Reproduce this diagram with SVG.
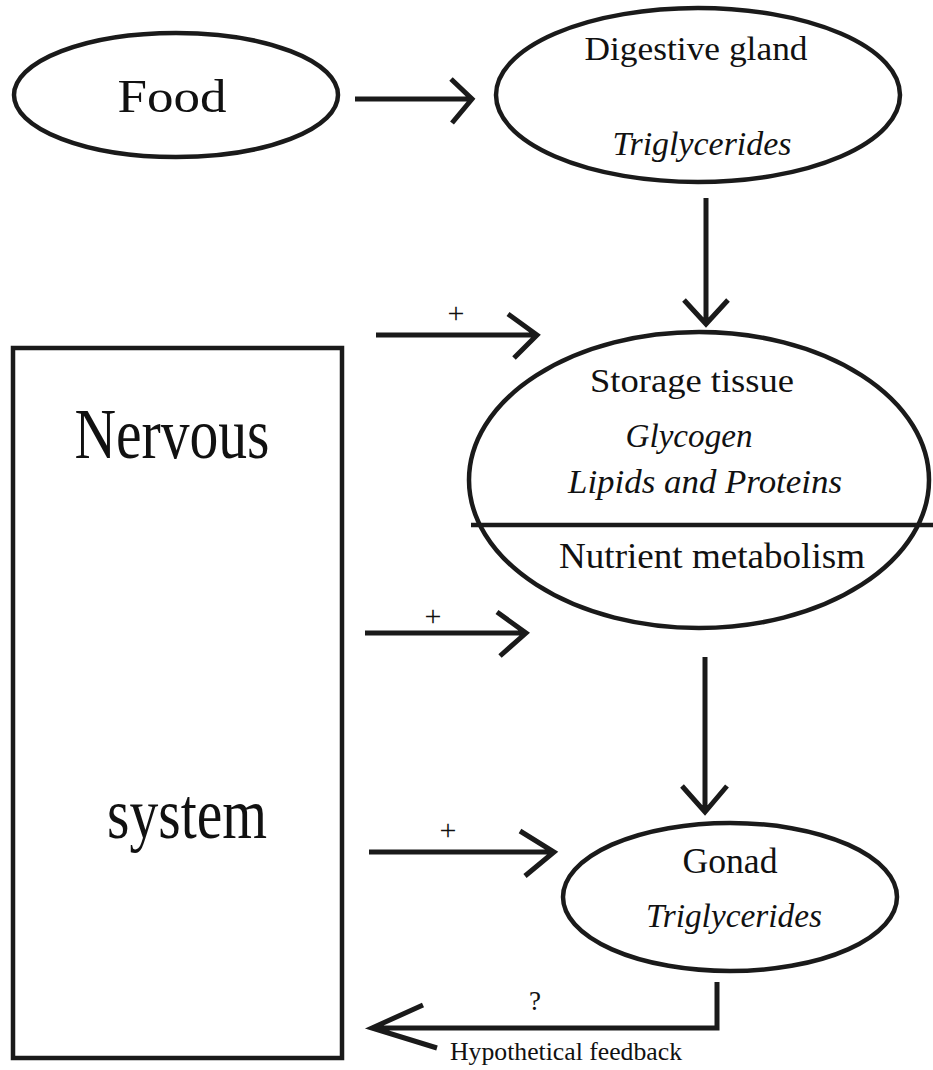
<svg xmlns="http://www.w3.org/2000/svg" width="933" height="1070" viewBox="0 0 933 1070">
<style>
.shape{fill:none;stroke:#1a1a1a;stroke-width:4.5}
.conn{fill:none;stroke:#1a1a1a;stroke-width:5}
.t{font-family:"Liberation Serif","Times New Roman",serif;fill:#111;text-anchor:middle}
.i{font-style:italic}
.p{font-size:30px}
</style>
<rect width="933" height="1070" fill="#fff"/>
<g id="food">
<ellipse class="shape" cx="176" cy="95" rx="162" ry="62"/>
<text class="t" x="172" y="112" font-size="46" textLength="109" lengthAdjust="spacingAndGlyphs">Food</text>
</g>
<g id="digestive-gland">
<ellipse class="shape" cx="698" cy="95" rx="202" ry="87"/>
<text class="t" x="696" y="60" font-size="34" textLength="223" lengthAdjust="spacingAndGlyphs">Digestive gland</text>
<text class="t i" x="702" y="155" font-size="33" textLength="179" lengthAdjust="spacingAndGlyphs">Triglycerides</text>
</g>
<g id="storage-tissue">
<ellipse class="shape" cx="699" cy="480" rx="230" ry="148"/>
<line class="shape" x1="471" y1="525" x2="933" y2="525"/>
<text class="t" x="692" y="392" font-size="34" textLength="204" lengthAdjust="spacingAndGlyphs">Storage tissue</text>
<text class="t i" x="689" y="447" font-size="34" textLength="127" lengthAdjust="spacingAndGlyphs">Glycogen</text>
<text class="t i" x="705" y="493" font-size="34" textLength="274" lengthAdjust="spacingAndGlyphs">Lipids and Proteins</text>
<text class="t" x="712" y="568" font-size="35" textLength="306" lengthAdjust="spacingAndGlyphs">Nutrient metabolism</text>
</g>
<g id="nervous-system">
<rect class="shape" x="13" y="348" width="329" height="710"/>
<text class="t" x="172" y="458" font-size="72" textLength="195" lengthAdjust="spacingAndGlyphs">Nervous</text>
<text class="t" x="187" y="838" font-size="72" textLength="160" lengthAdjust="spacingAndGlyphs">system</text>
</g>
<g id="gonad">
<ellipse class="shape" cx="730" cy="897" rx="167" ry="74"/>
<text class="t" x="730" y="873" font-size="35" textLength="95" lengthAdjust="spacingAndGlyphs">Gonad</text>
<text class="t i" x="734" y="927" font-size="34" textLength="176" lengthAdjust="spacingAndGlyphs">Triglycerides</text>
</g>
<g id="connectors">
<path class="conn" d="M355 99 H470 M451 79 L472 99 L452 123"/>
<path class="conn" d="M706 198 V323 M684 300 L706 324 L728 300"/>
<path class="conn" d="M376 335 H535 M508 314 L537 335 L514 358"/>
<text class="t p" x="456" y="323">+</text>
<path class="conn" d="M365 633 H524 M497 612 L526 633 L500 656"/>
<text class="t p" x="433" y="626">+</text>
<path class="conn" d="M705 657 V811 M682 786 L705 812 L727 786"/>
<path class="conn" d="M369 852 H552 M520 831 L554 852 L525 876"/>
<text class="t p" x="448" y="840">+</text>
<path class="conn" d="M717 982 V1028 H374 M423 1005 L372 1028 L437 1048"/>
<text class="t" x="535" y="1010" font-size="27">?</text>
<text class="t" x="566" y="1060" font-size="26" textLength="232" lengthAdjust="spacingAndGlyphs">Hypothetical feedback</text>
</g>
</svg>
